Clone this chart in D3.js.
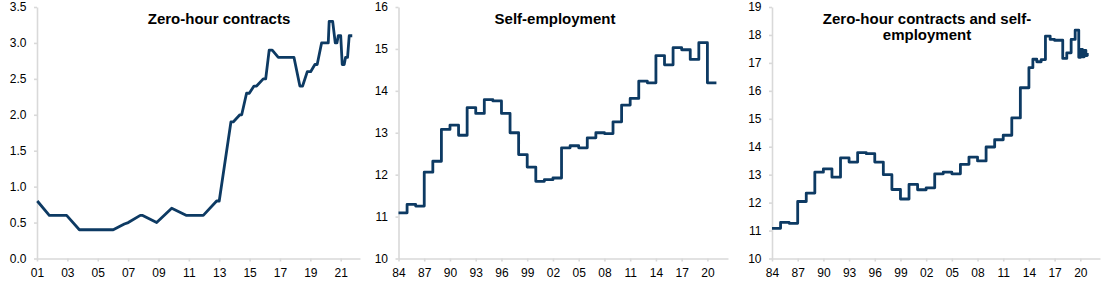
<!DOCTYPE html>
<html>
<head>
<meta charset="utf-8">
<script src="https://cdn.jsdelivr.net/npm/d3@7"></script>
<style>
  html, body { margin: 0; padding: 0; background: #fff; }
  svg { display: block; font-family: "Liberation Sans", Arial, sans-serif; }
  .axis path, .axis line { stroke: #d9d9d9; stroke-width: 1.6; }
  .axis text { fill: #000; font-size: 12px; font-family: "Liberation Sans", Arial, sans-serif; }
  .title { font-size: 15px; font-weight: bold; fill: #000; }
</style>
</head>
<body>
<svg id="chart" width="1118" height="294"></svg>
<script>
// ---- Data ----
// Panel 1: Zero-hour contracts (% of employment), decimal-year dates
const zhcDates = [2001.02, 2001.81, 2002.95, 2003.79, 2006.02, 2006.75, 2007.01, 2007.80, 2007.96, 2008.88,
  2009.87, 2010.85, 2011.95, 2012.83, 2013.00, 2013.77, 2013.92, 2014.36, 2014.48, 2014.80,
  2014.98, 2015.29, 2015.46, 2015.90, 2016.06, 2016.29, 2016.49, 2016.89, 2017.92, 2018.31,
  2018.49, 2018.80, 2019.02, 2019.30, 2019.45, 2019.74, 2020.18, 2020.24, 2020.47, 2020.64,
  2020.75, 2020.84, 2021.00, 2021.10, 2021.23, 2021.32, 2021.45, 2021.56, 2021.76];
const zhcValues = [0.8, 0.6, 0.6, 0.4, 0.4, 0.48, 0.5, 0.6, 0.6, 0.5,
  0.7, 0.6, 0.6, 0.8, 0.8, 1.9, 1.9, 2.0, 2.0, 2.3,
  2.3, 2.4, 2.4, 2.5, 2.5, 2.9, 2.9, 2.8, 2.8, 2.4,
  2.4, 2.6, 2.6, 2.7, 2.7, 3.0, 3.0, 3.3, 3.3, 3.0,
  3.0, 3.1, 3.1, 2.7, 2.7, 2.8, 2.8, 3.1, 3.1];
const zhcTicks = [2001, 2003, 2005, 2007, 2009, 2011, 2013, 2015, 2017, 2019, 2021];
const zhcYTicks = [0, 0.5, 1.0, 1.5, 2.0, 2.5, 3.0, 3.5];

// Panel 2: Self-employment (% of employment), annual 1984-2020
const seYears = d3.range(1984, 2021);
const seValues = [11.09, 11.29, 11.25, 12.06, 12.32, 13.08, 13.18, 12.94, 13.60, 13.46,
  13.79, 13.76, 13.46, 13.00, 12.48, 12.18, 11.84, 11.88, 11.92, 12.64,
  12.69, 12.64, 12.88, 13.00, 12.98, 13.26, 13.66, 13.82, 14.23, 14.19,
  14.84, 14.62, 15.03, 14.98, 14.75, 15.15, 14.19];
const seEnd = 2021.05;
const seYTicks = [10, 11, 12, 13, 14, 15, 16];

// Panel 3: Zero-hour contracts and self-employment combined
const combDates = d3.range(1984, 2014).concat([2014.0, 2014.46, 2014.92, 2015.43, 2015.93, 2016.48, 2016.98,
  2017.95, 2018.42, 2018.93, 2019.40, 2019.82, 2020.05, 2020.25, 2020.45, 2020.65, 2020.80]);
const combValues = [11.08, 11.29, 11.26, 12.04, 12.34, 13.09, 13.21, 12.91, 13.60, 13.45,
  13.79, 13.75, 13.45, 13.00, 12.47, 12.13, 12.65, 12.46, 12.53, 13.03,
  13.09, 13.03, 13.37, 13.63, 13.49, 13.99, 14.25, 14.41, 15.03, 16.11,
  16.83, 17.13, 17.04, 17.12, 17.96, 17.84, 17.81, 17.16, 17.36, 17.84,
  18.17, 17.20, 17.48, 17.22, 17.45, 17.26, 17.30];
const combEnd = 2020.98;
const combYTicks = [10, 11, 12, 13, 14, 15, 16, 17, 18, 19];

const yearTicks3 = d3.range(1984, 2021, 3);

const titles1 = ["Zero-hour contracts"];
const titles2 = ["Self-employment"];
const titles3 = ["Zero-hour contracts and self-", "employment"];

// ---- Drawing ----
const svg = d3.select("#chart");
const lineColor = "#0d3a63";
const yr2 = d => String(Math.round(d) % 100).padStart(2, "0");

function panel(cfg) {
  const x = d3.scaleLinear().domain(cfg.xDomain).range(cfg.xRange);
  const y = d3.scaleLinear().domain(cfg.yDomain).range([258.5, 7]);
  const g = svg.append("g");

  g.append("g").attr("class", "axis")
    .attr("transform", `translate(0,${y.range()[0]})`)
    .call(d3.axisBottom(x).tickValues(cfg.xTicks).tickFormat(yr2).tickSizeInner(3).tickSizeOuter(0).tickPadding(7));

  g.append("g").attr("class", "axis")
    .attr("transform", `translate(${cfg.xRange[0]},0)`)
    .call(d3.axisLeft(y).tickValues(cfg.yTicks).tickFormat(cfg.yFormat).tickSizeInner(3).tickSizeOuter(0).tickPadding(7.5));

  const line = d3.line().x(d => x(d[0])).y(d => y(d[1])).curve(cfg.curve);
  g.append("path").datum(cfg.points)
    .attr("fill", "none").attr("stroke", lineColor)
    .attr("stroke-width", 2.8).attr("stroke-linejoin", "round")
    .attr("d", line);

  const t = g.append("text").attr("class", "title").attr("text-anchor", "middle");
  cfg.title.forEach((s, i) => {
    t.append("tspan").attr("x", cfg.titleX).attr("y", 24 + i * 16).text(s);
  });
}

panel({
  xDomain: [2001, 2022.27], xRange: [37, 360], yDomain: [0, 3.5],
  xTicks: zhcTicks, yTicks: zhcYTicks, yFormat: d3.format(".1f"),
  points: zhcDates.map((d, i) => [d, zhcValues[i]]), curve: d3.curveLinear,
  title: titles1, titleX: 219
});

const sePts = seYears.map((d, i) => [d, seValues[i]]);
sePts.push([seEnd, seValues[seValues.length - 1]]);
panel({
  xDomain: [1984, 2022.4], xRange: [398.5, 728], yDomain: [10, 16],
  xTicks: yearTicks3, yTicks: seYTicks, yFormat: d3.format("d"),
  points: sePts, curve: d3.curveStepAfter,
  title: titles2, titleX: 555
});

const cPts = combDates.map((d, i) => [d, combValues[i]]);
cPts.push([combEnd, combValues[combValues.length - 1]]);
panel({
  xDomain: [1984, 2022.3], xRange: [772, 1100], yDomain: [10, 19],
  xTicks: yearTicks3, yTicks: combYTicks, yFormat: d3.format("d"),
  points: cPts, curve: d3.curveStepAfter,
  title: titles3, titleX: 927
});
</script>
</body>
</html>
